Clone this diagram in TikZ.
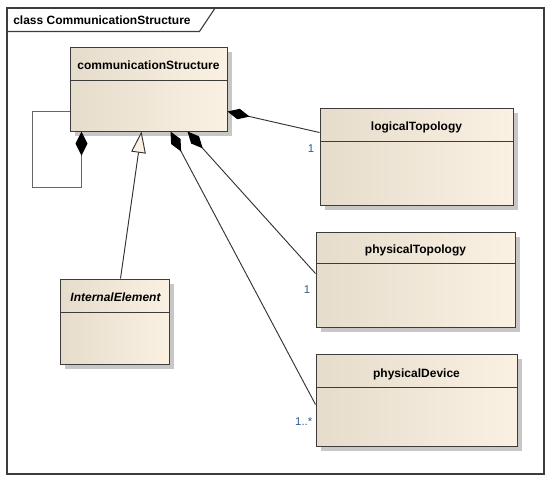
\documentclass[tikz,border=0pt]{standalone}
\usepackage{fontspec}
\setmainfont{Liberation Sans}
\usetikzlibrary{arrows.meta,positioning,calc,fit,shadows}
\definecolor{clsL}{RGB}{230,220,204}
\definecolor{clsR}{RGB}{251,241,226}
\definecolor{edge}{RGB}{60,60,60}
\definecolor{multc}{RGB}{50,90,140}

\begin{document}
\begin{tikzpicture}[
  x=0.75pt, y=-0.75pt,
  font=\fontsize{9}{11}\selectfont,
  frame/.style={draw=edge, line width=0.8pt, inner sep=0pt},
  cls/.style={draw=edge, line width=0.75pt, left color=clsL, right color=clsR, inner sep=0pt,
    drop shadow={shadow xshift=3.5pt, shadow yshift=-3.5pt, fill=black!22, opacity=1}},
  cname/.style={font=\fontsize{9}{11}\selectfont\bfseries, inner sep=0pt},
  sep/.style={draw=edge, line width=0.7pt},
  comp/.style={draw=black!80, line width=0.7pt, {Diamond[length=17pt, width=8pt, color=black]}-},
  loop/.style={draw=black!60, line width=0.7pt, {Diamond[length=18pt, width=9pt, color=black]}-},
  gen/.style={draw=black!80, line width=0.7pt, -{Triangle[open, length=16pt, width=11pt, fill=clsR]}},
  mult/.style={font=\fontsize{8.5}{10}\selectfont, text=multc, inner sep=0pt}
]
\useasboundingbox (0,0) rectangle (551,480);

% Frame and title tab
\node[frame, fit={(7,8) (544,474)}] (frm) {};
\node[cname, anchor=west] (ttl) at (13,20) {class CommunicationStructure};
\draw[frame] ($(frm.north west)+(0,24)$) -- ($(frm.north west)+(193,24)$) -- ($(frm.north west)+(209,0)$);

% Classes
\node[cls, fit={(70,47) (227,131)}] (cs) {};
\node[cls, fit={(320,108) (513,205)}] (lt) {};
\node[cls, fit={(316,232) (515,327)}] (pt) {};
\node[cls, fit={(316,354) (517,446)}] (pd) {};
\node[cls, fit={(60,279) (169,364)}] (ie) {};

% Class names
\node[cname] (csn) at ($(cs.north)+(0,19)$) {communicationStructure};
\node[cname] (ltn) at ($(lt.north)+(0,20)$) {logicalTopology};
\node[cname] (ptn) at ($(pt.north)+(0,19)$) {physicalTopology};
\node[cname] (pdn) at ($(pd.north)+(0,21)$) {physicalDevice};
\node[cname, font=\fontsize{9}{11}\selectfont\bfseries\itshape] (ien) at ($(ie.north)+(1,19)$) {InternalElement};

% Compartment lines
\draw[sep] ($(cs.north west)+(0,34)$) -- ($(cs.north east)+(0,34)$);
\draw[sep] ($(lt.north west)+(0,34)$) -- ($(lt.north east)+(0,34)$);
\draw[sep] ($(pt.north west)+(0,32)$) -- ($(pt.north east)+(0,32)$);
\draw[sep] ($(pd.north west)+(0,34)$) -- ($(pd.north east)+(0,34)$);
\draw[sep] ($(ie.north west)+(0,34)$) -- ($(ie.north east)+(0,34)$);

% Compositions
\draw[loop] ($(cs.south west)+(12,0)$) |- ++(-49,56) |- ($(cs.south west)+(0,-20)$);
\draw[comp] ($(cs.south east)+(0,-20)$) -- ($(lt.north west)+(0,25)$);
\draw[comp] ($(cs.south west)+(118,0)$) -- ($(pt.north west)+(0,42)$);
\draw[comp] ($(cs.south west)+(101,0)$) -- ($(pd.north west)+(0,51)$);

% Generalization
\draw[gen] ($(ie.north)+(6,0)$) -- ($(cs.south west)+(72,0)$);

% Multiplicities
\node[mult, anchor=east] (m1) at ($(lt.north west)+(-5,41)$) {1};
\node[mult, anchor=east] (m2) at ($(pt.north west)+(-5,58)$) {1};
\node[mult, anchor=east] (m3) at ($(pd.north west)+(-3,68)$) {1..*};

\end{tikzpicture}
\end{document}
